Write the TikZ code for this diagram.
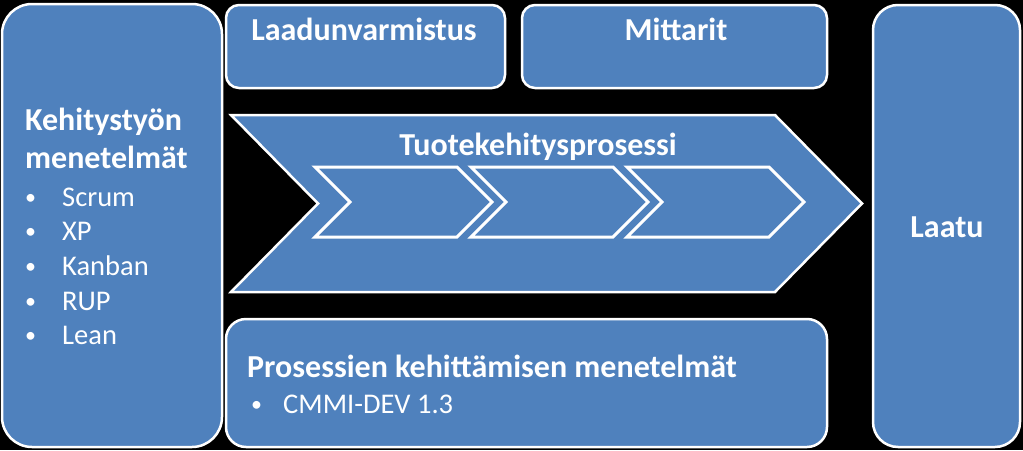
\documentclass[tikz,border=0pt]{standalone}
\usepackage{fontspec}
\setmainfont{Carlito}
\definecolor{boxblue}{HTML}{4F81BD}
\begin{document}
\begin{tikzpicture}[x=1pt,y=-1pt,
  box/.style={draw=white, line width=2.5pt, fill=boxblue, line join=miter},
  ttl/.style={text=white, font=\fontsize{32}{36}\selectfont\bfseries, anchor=base, inner sep=0pt},
  itm/.style={text=white, font=\fontsize{28.5}{32}\selectfont, anchor=base west, inner sep=0pt},
  bul/.style={text=white, font=\fontsize{22}{26}\selectfont, anchor=base west, inner sep=0pt}]
\fill[black] (0,0) rectangle (1023,450);
\useasboundingbox (0,0) rectangle (1023,450);
% boxes
\draw[box, rounded corners=30pt] (2,4) rectangle (222,447);
\draw[box, rounded corners=13pt] (226,5) rectangle (505,88);
\draw[box, rounded corners=13pt] (522,5) rectangle (827,88);
\draw[box, rounded corners=25pt] (873,5) rectangle (1020,447);
\draw[box, rounded corners=20pt] (226,319) rectangle (827,447);
% big chevron
\draw[box] (231,115) -- (775,115) -- (862,203.5) -- (775,292) -- (231,292) -- (318,203.5) -- cycle;
% inner chevrons
\foreach \L in {315,471,627}{
  \draw[box, line width=3pt] (\L,167) -- (\L+142,167) -- (\L+177,202) -- (\L+142,237) -- (\L,237) -- (\L+35,202) -- cycle;
}
% titles
\node[ttl] (qa) at (364,40) {Laadunvarmistus};
\node[ttl] (mit) at (676,40) {Mittarit};
\node[ttl] (tkp) at (538,155) {Tuotekehitysprosessi};
\node[ttl] (laatu) at (947,237) {Laatu};
\node[ttl, anchor=base west] (k1) at (25,130) {Kehitystyön};
\node[ttl, anchor=base west] (k2) at (25,168) {menetelmät};
\node[ttl, anchor=base west] (pk) at (247,377) {Prosessien kehittämisen menetelmät};
% bullets left
\foreach \t/\yy [count=\i] in {Scrum/206,XP/240.5,Kanban/275,RUP/310,Lean/344.5}{
  \node[bul] (b\i) at (25,\yy-2) {•};
  \node[itm] (l\i) at (62,\yy) {\t};
}
\node[bul] (cb) at (251,411) {•};
\node[itm] (cm) at (283,413) {CMMI-DEV 1.3};
\end{tikzpicture}
\end{document}
